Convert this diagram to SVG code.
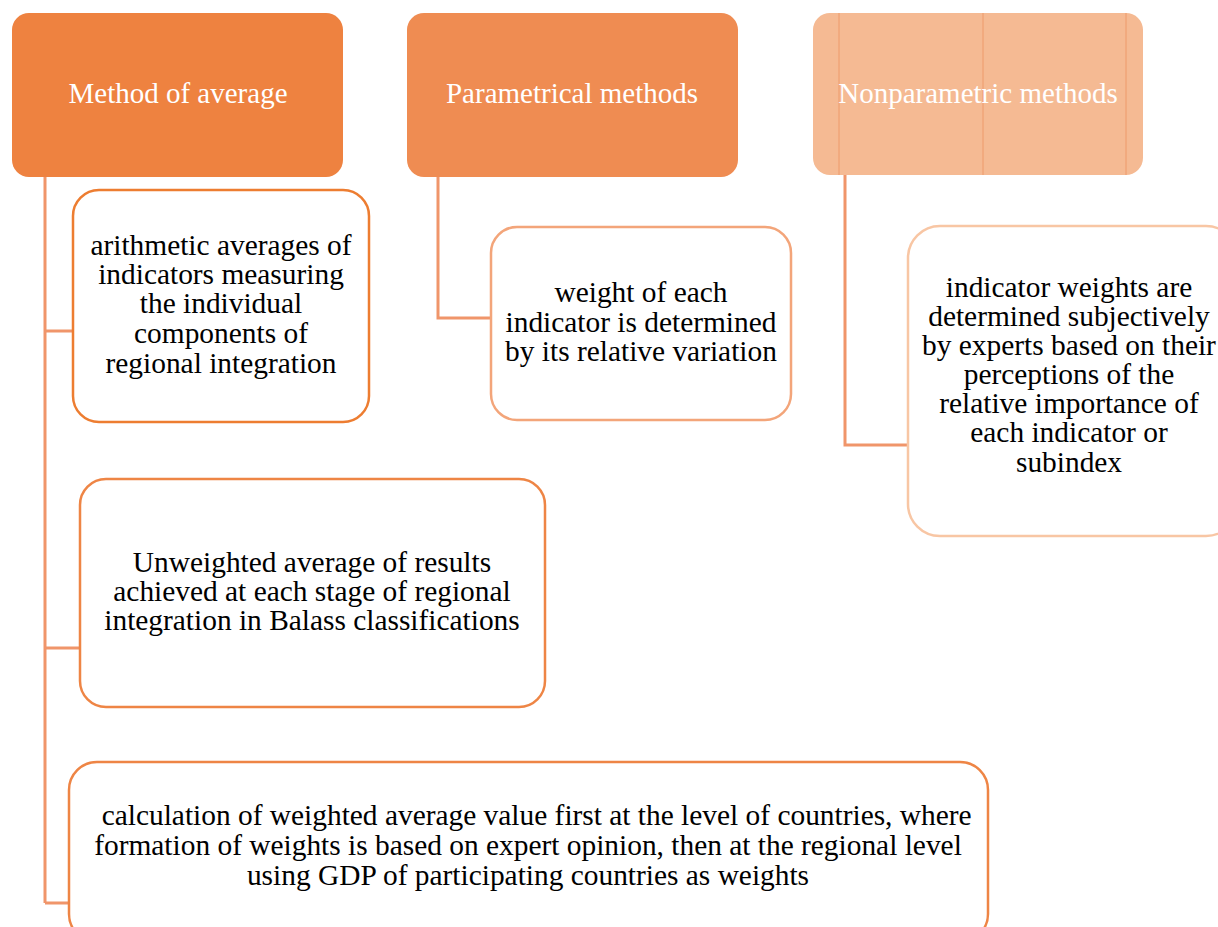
<svg xmlns="http://www.w3.org/2000/svg" width="1218" height="927" viewBox="0 0 1218 927">
<style>
.hdr{font-family:'Liberation Serif',serif;font-size:29px;fill:#ffffff;text-anchor:middle}
.txt{font-family:'Liberation Serif',serif;font-size:29.4px;fill:#000000;text-anchor:middle}
.conn{fill:none;stroke:#F0956A;stroke-width:3}
.box{fill:#ffffff;stroke-width:2.5}
</style>
<rect width="1218" height="927" fill="#ffffff"/>
<g id="connectors">
<path class="conn" d="M45,177 V903 M45,331 H73 M45,648 H80 M45,903 H69"/>
<path class="conn" d="M438,177 V318 H491"/>
<path class="conn" d="M845,175 V445 H908"/>
</g>
<g id="method-of-average">
<rect x="12" y="13" width="331" height="164" rx="17" fill="#EE8240"/>
<text class="hdr" x="178" y="103">Method of average</text>
</g>
<g id="parametrical-methods">
<rect x="407" y="13" width="331" height="164" rx="17" fill="#EF8C52"/>
<text class="hdr" x="572" y="103">Parametrical methods</text>
</g>
<g id="nonparametric-methods">
<rect x="813" y="13" width="330" height="162" rx="17" fill="#F5BA93"/>
<path d="M839,13 V175 M983,13 V175 M1126,13 V175" stroke="#EE9A6A" stroke-width="1" fill="none"/>
<text class="hdr" x="978" y="103">Nonparametric methods</text>
</g>
<g id="arithmetic-averages">
<rect class="box" x="73" y="190" width="296" height="232" rx="26" stroke="#ED7D31"/>
<text class="txt" x="221" y="255">arithmetic averages of</text>
<text class="txt" x="221" y="284">indicators measuring</text>
<text class="txt" x="221" y="313">the individual</text>
<text class="txt" x="221" y="343">components of</text>
<text class="txt" x="221" y="373">regional integration</text>
</g>
<g id="weight-relative-variation">
<rect class="box" x="491" y="227" width="300" height="193" rx="26" stroke="#F3A57A"/>
<text class="txt" x="641" y="302">weight of each</text>
<text class="txt" x="641" y="332">indicator is determined</text>
<text class="txt" x="641" y="361">by its relative variation</text>
</g>
<g id="experts-weights">
<rect class="box" x="908" y="226" width="330" height="310" rx="32" stroke="#F8C6A4"/>
<text class="txt" x="1069" y="297">indicator weights are</text>
<text class="txt" x="1069" y="326">determined subjectively</text>
<text class="txt" x="1069" y="355">by experts based on their</text>
<text class="txt" x="1069" y="384">perceptions of the</text>
<text class="txt" x="1069" y="413">relative importance of</text>
<text class="txt" x="1069" y="442">each indicator or</text>
<text class="txt" x="1069" y="472">subindex</text>
</g>
<g id="unweighted-average">
<rect class="box" x="80" y="479" width="465" height="228" rx="26" stroke="#EE8545"/>
<text class="txt" x="312" y="572">Unweighted average of results</text>
<text class="txt" x="312" y="601">achieved at each stage of regional</text>
<text class="txt" x="312" y="630">integration in Balass classifications</text>
</g>
<g id="weighted-average-gdp">
<rect class="box" x="69" y="762" width="919" height="180" rx="28" stroke="#EE8545"/>
<text class="txt" x="533" y="825" xml:space="preserve"> calculation of weighted average value first at the level of countries, where</text>
<text class="txt" x="528" y="855">formation of weights is based on expert opinion, then at the regional level</text>
<text class="txt" x="528" y="885">using GDP of participating countries as weights</text>
</g>
</svg>
